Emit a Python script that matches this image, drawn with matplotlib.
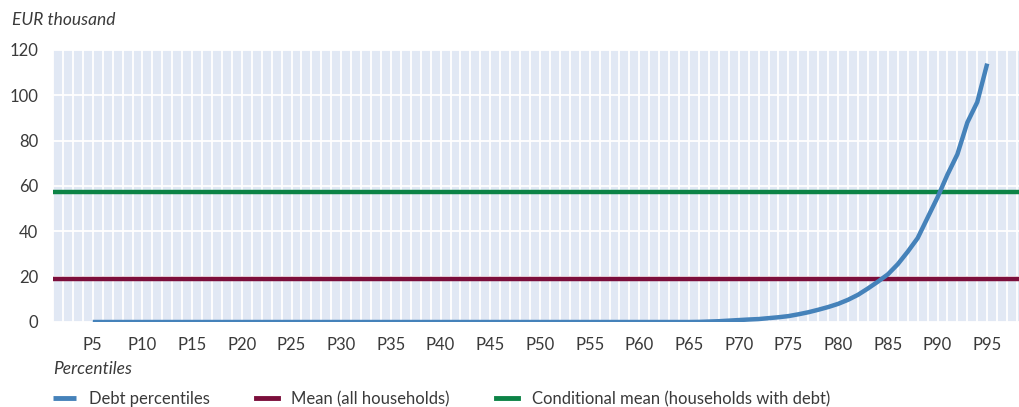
import matplotlib
matplotlib.use("Agg")
import matplotlib.pyplot as plt
from matplotlib.ticker import MultipleLocator
import numpy as np

# ---- data ----
percentiles = list(range(5, 96))  # P5 ... P95
debt_tail = {66: 0.05, 67: 0.2, 68: 0.35, 69: 0.6, 70: 0.85, 71: 1.1, 72: 1.3,
             73: 1.7, 74: 2.1, 75: 2.6, 76: 3.4, 77: 4.3, 78: 5.4, 79: 6.6,
             80: 8.0, 81: 9.8, 82: 12.0, 83: 14.8, 84: 17.8, 85: 21.0, 86: 25.5,
             87: 31.0, 88: 37.0, 89: 46.0, 90: 55.0, 91: 65.0, 92: 74.0,
             93: 88.0, 94: 97.0, 95: 114.0}
debt_values = [debt_tail.get(p, 0.0) for p in percentiles]
mean_all = 18.8
mean_conditional = 57.2
tick_percentiles = list(range(5, 96, 5))
tick_labels = [f"P{p}" for p in tick_percentiles]
y_ticks = [0, 20, 40, 60, 80, 100, 120]

series_names = ["Debt percentiles", "Mean (all households)",
                "Conditional mean (households with debt)"]
colors = ["#4582BA", "#7B0E3B", "#0C8346"]

plt.rcParams['font.family'] = ['Lato', 'DejaVu Sans']
text_color = "#3A3A3A"

fig = plt.figure(figsize=(10.2, 4.07), dpi=100)
ax = fig.add_axes([53 / 1020, 1 - 322 / 407, 1 - 53 / 1020, (322 - 50) / 407])
ax.set_facecolor("#E1E8F4")
for s in ax.spines.values():
    s.set_visible(False)

ax.set_xlim(1, 98.3)
ax.set_ylim(0, 120)

ax.set_xticks(tick_percentiles)
ax.set_xticklabels(tick_labels)
ax.xaxis.set_minor_locator(MultipleLocator(1))
ax.set_yticks(y_ticks)
ax.tick_params(axis='both', which='both', length=0, labelsize=12, colors=text_color)
ax.tick_params(axis='x', pad=11)
ax.tick_params(axis='y', pad=10.5)

ax.grid(True, which='both', axis='x', color='white', linewidth=1.3)
ax.grid(True, which='major', axis='y', color='white', linewidth=1.3)
ax.set_axisbelow(True)

l1, = ax.plot(percentiles, debt_values, color=colors[0], linewidth=3.2,
              solid_capstyle='butt', zorder=4)
l2 = ax.axhline(mean_all, color=colors[1], linewidth=3.2, zorder=3)
l3 = ax.axhline(mean_conditional, color=colors[2], linewidth=3.2, zorder=3)

fig.text(12 / 1020, 1 - 20 / 407, "EUR thousand", style='italic', fontsize=12.5,
         color=text_color, va='center', ha='left')
fig.text(53 / 1020, 1 - 369 / 407, "Percentiles", style='italic', fontsize=12.5,
         color=text_color, va='center', ha='left')

leg = fig.legend([l1, l2, l3], series_names, loc='center left',
                 bbox_to_anchor=(53 / 1020, 1 - 399 / 407), ncol=3, frameon=False,
                 prop={'size': 12}, handlelength=1.35,
                 handletextpad=0.8, columnspacing=2.75, borderaxespad=0, borderpad=0)
for t in leg.get_texts():
    t.set_color(text_color)
for h in leg.legend_handles:
    h.set_linewidth(3.5)

fig.savefig("out.png", dpi=100)
